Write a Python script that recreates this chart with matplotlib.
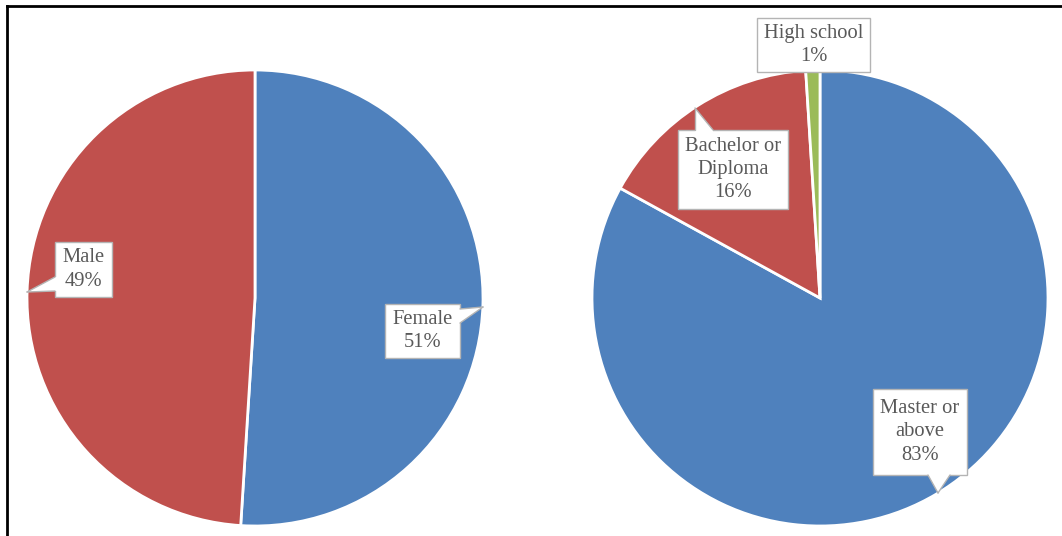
import matplotlib.pyplot as plt
from matplotlib.lines import Line2D
from matplotlib.patches import Rectangle, Polygon

# data
gender_labels = ['Female', 'Male']
gender_values = [51, 49]
edu_labels = ['Master or\nabove', 'Bachelor or\nDiploma', 'High school']
edu_values = [83, 16, 1]

blue = '#4F81BD'
red = '#C0504D'
green = '#9BBB59'
W, H = 1062, 536


def py(y):
    # pixel row -> data y
    return H - y


fig = plt.figure(figsize=(W / 100, H / 100), dpi=100)
ax = fig.add_axes([0, 0, 1, 1])

r = 228
ax.pie(gender_values, colors=[blue, red], startangle=90, counterclock=False,
       center=(255, py(298)), radius=r,
       wedgeprops=dict(edgecolor='white', linewidth=2))
ax.pie(edu_values, colors=[blue, red, green], startangle=90, counterclock=False,
       center=(820, py(298)), radius=r,
       wedgeprops=dict(edgecolor='white', linewidth=2))

ax.set_xlim(0, W)
ax.set_ylim(0, H)
ax.set_aspect('equal')
ax.axis('off')

edge = '#b4b4b4'


def callout(text, rect, base=None, tip=None, inward=(0, 0)):
    x0, y0, x1, y1 = rect
    ax.add_patch(Rectangle((x0, py(y1)), x1 - x0, y1 - y0, fc='white',
                           ec=edge, lw=1, zorder=3))
    if tip is not None:
        (bx0, by0), (bx1, by1) = base
        dx, dy = inward
        pts = [(bx0 + dx, py(by0 + dy)), (bx0, py(by0)), (tip[0], py(tip[1])),
               (bx1, py(by1)), (bx1 + dx, py(by1 + dy))]
        ax.add_patch(Polygon(pts, closed=True, fc='white', ec='none', zorder=4))
        for bx, by in base:
            ax.plot([bx, tip[0]], [py(by), py(tip[1])], color=edge, lw=1,
                    zorder=4, solid_capstyle='round')
    ax.text((x0 + x1) / 2, py((y0 + y1) / 2), text, ha='center', va='center',
            fontsize=14.8, color='#595959', family='Liberation Serif',
            linespacing=1.3, zorder=5)


callout(f'{gender_labels[0]}\n{gender_values[0]}%', (385, 304, 460, 358),
        [(460, 309), (460, 323)], (483, 307), inward=(-3, 0))
callout(f'{gender_labels[1]}\n{gender_values[1]}%', (55, 242, 112, 297),
        [(55, 277), (55, 291)], (27, 292), inward=(3, 0))
callout(f'{edu_labels[0]}\n{edu_values[0]}%', (873, 389, 967, 475),
        [(928, 475), (950, 475)], (938, 493), inward=(0, -3))
callout(f'{edu_labels[1]}\n{edu_values[1]}%', (678, 130, 788, 209),
        [(695, 130), (713, 130)], (695, 108), inward=(0, 3))
callout(f'{edu_labels[2]}\n{edu_values[2]}%', (757, 18, 870, 72))

# frame (top and left edges visible)
fig.add_artist(Line2D([7 / W, 1], [1 - 6 / H, 1 - 6 / H], color='black', lw=2))
fig.add_artist(Line2D([7 / W, 7 / W], [0, 1 - 6 / H], color='black', lw=2))

fig.savefig('out.png', dpi=100)
